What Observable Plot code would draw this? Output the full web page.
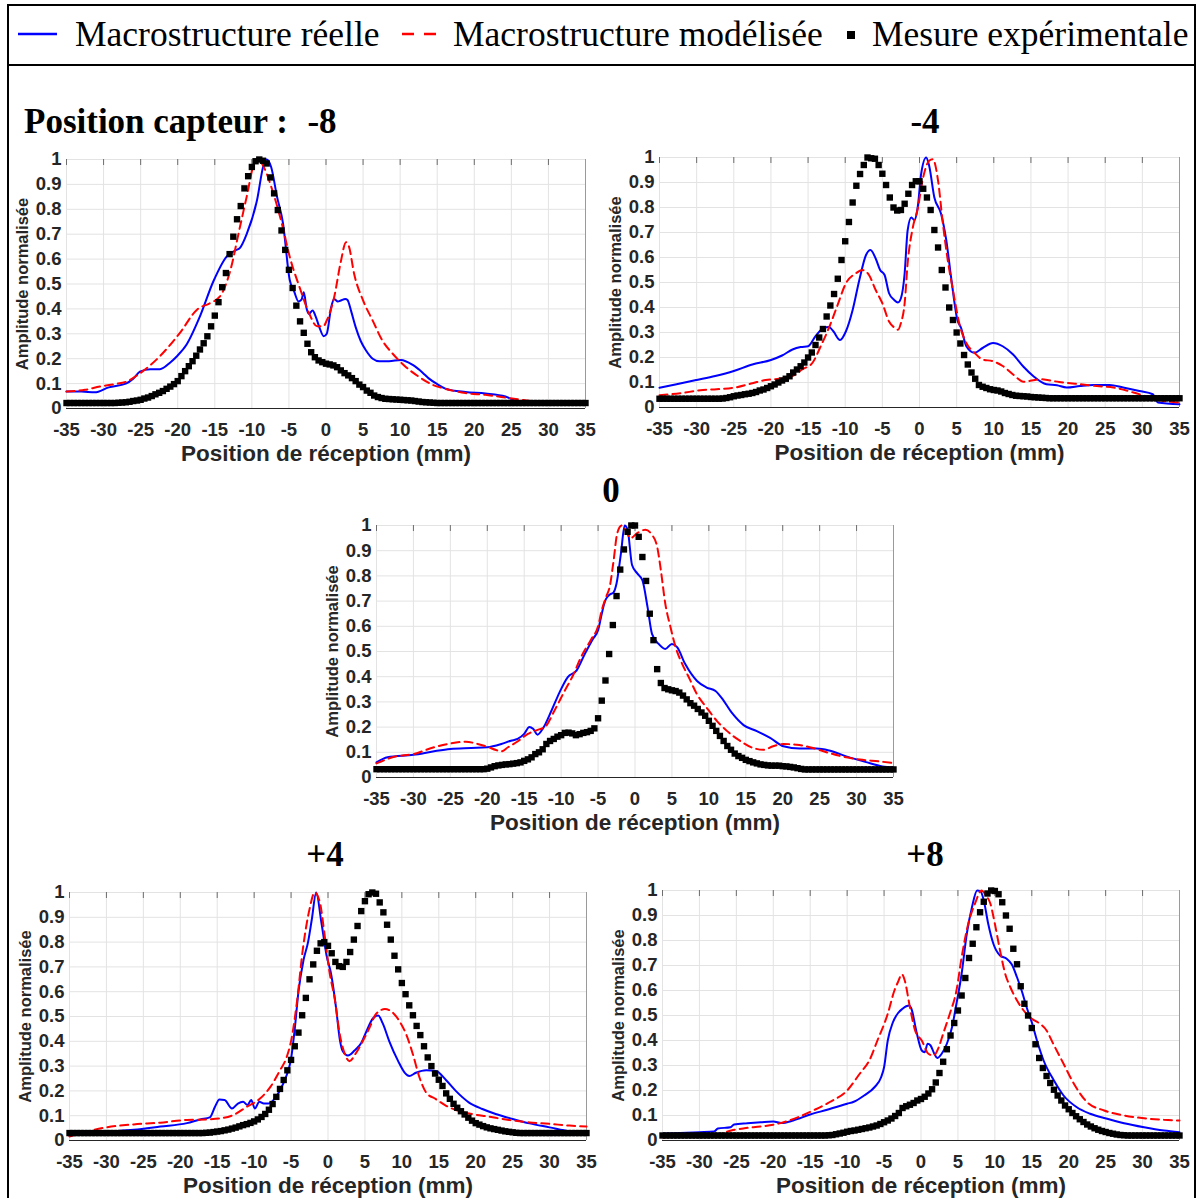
<!DOCTYPE html>
<html>
<head>
<meta charset="utf-8">
<script src="https://cdn.jsdelivr.net/npm/d3@7"></script>
<script src="https://cdn.jsdelivr.net/npm/@observablehq/plot@0.6"></script>
<style>
  html, body { margin: 0; padding: 0; background: #fff; }
  #fig { position: relative; width: 1200px; height: 1198px; overflow: hidden; background: #fff; }
  #fig svg { position: absolute; }
</style>
</head>
<body>
<div id="fig"></div>
<script>
// ---------------- labels / ticks ----------------
const legendLabels = ["Macrostructure réelle", "Macrostructure modélisée", "Mesure expérimentale"];
const titlePrefix = "Position capteur :";
const panelTitles = ["-8", "-4", "0", "+4", "+8"];
const xLabel = "Position de réception (mm)";
const yLabel = "Amplitude normalisée";
const xTicks = [-35, -30, -25, -20, -15, -10, -5, 0, 5, 10, 15, 20, 25, 30, 35];
const yTicks = [0, 0.1, 0.2, 0.3, 0.4, 0.5, 0.6, 0.7, 0.8, 0.9, 1];
// measurement grid (0.5 mm step)
const measX = d3.range(-35, 35.001, 0.5);

// ---------------- sensor position -8 ----------------
const real_m8 = [[-35,0.068],[-33,0.068],[-31.2,0.065],[-29.3,0.085],[-27,0.1],[-26,0.12],[-25.1,0.148],[-23.7,0.158],[-22.4,0.158],[-21,0.185],[-20.1,0.21],[-18.8,0.257],[-17,0.37],[-15.2,0.51],[-13.4,0.61],[-12.2,0.635],[-11.6,0.645],[-10.7,0.7],[-9.3,0.837],[-8.4,0.98],[-8,1.0],[-7.4,0.97],[-6.6,0.85],[-5.8,0.744],[-4.9,0.517],[-4.3,0.47],[-3.7,0.43],[-3.3,0.437],[-3,0.467],[-2.6,0.4],[-2.3,0.38],[-1.8,0.394],[-1.4,0.37],[-0.9,0.327],[-0.3,0.29],[0.1,0.3],[0.7,0.407],[1.1,0.44],[1.6,0.43],[2.0,0.434],[2.6,0.44],[2.9,0.436],[3.4,0.39],[4,0.327],[4.7,0.27],[5.4,0.233],[6.3,0.2],[7.2,0.19],[8.5,0.19],[10.1,0.195],[11.7,0.175],[13,0.145],[13.9,0.12],[15,0.098],[16.1,0.08],[18.8,0.066],[21.5,0.06],[24.2,0.048],[25.6,0.03],[26.5,0.022],[35,0.022]];
const model_m8 = [[-35,0.068],[-32.5,0.075],[-30.5,0.088],[-28.5,0.098],[-27,0.107],[-25.1,0.141],[-22.4,0.21],[-19.7,0.304],[-17.4,0.397],[-15.6,0.424],[-14.3,0.45],[-13,0.544],[-11.6,0.73],[-10.7,0.85],[-9.6,0.99],[-9.1,1.0],[-8.4,0.97],[-7.1,0.864],[-5.8,0.724],[-4.9,0.61],[-3.6,0.49],[-2.3,0.384],[-1.2,0.33],[-0.4,0.33],[0.2,0.36],[1.1,0.447],[2.0,0.59],[2.7,0.668],[3.1,0.65],[3.8,0.54],[5,0.434],[6.3,0.353],[7.6,0.273],[9,0.22],[10.8,0.166],[12.6,0.126],[14.4,0.095],[16.1,0.079],[18.8,0.062],[21.5,0.055],[25.1,0.04],[27.8,0.03],[29.6,0.025],[32,0.022],[35,0.022]];
const meas_m8 = [
  0.022,0.022,0.022,0.022,0.022,0.022,0.022,0.022,0.022,0.022,
  0.022,0.022,0.022,0.022,0.023,0.024,0.025,0.027,0.030,0.032,
  0.035,0.040,0.044,0.050,0.057,0.063,0.070,0.079,0.088,0.098,
  0.110,0.130,0.150,0.170,0.190,0.212,0.237,0.262,0.290,0.330,
  0.373,0.427,0.487,0.544,0.620,0.690,0.760,0.813,0.884,0.933,
  0.970,0.993,1.000,0.995,0.984,0.928,0.864,0.797,0.715,0.637,
  0.557,0.484,0.413,0.350,0.304,0.260,0.226,0.206,0.193,0.186,
  0.180,0.177,0.173,0.166,0.153,0.142,0.133,0.122,0.110,0.096,
  0.086,0.072,0.063,0.052,0.046,0.042,0.039,0.038,0.037,0.036,
  0.035,0.034,0.033,0.032,0.030,0.028,0.026,0.025,0.024,0.023,
  0.022,0.022,0.022,0.022,0.022,0.022,0.022,0.022,0.022,0.022,
  0.022,0.022,0.022,0.022,0.022,0.022,0.022,0.022,0.022,0.022,
  0.022,0.022,0.022,0.022,0.022,0.022,0.022,0.022,0.022,0.022,
  0.022,0.022,0.022,0.022,0.022,0.022,0.022,0.022,0.022,0.022,
  0.022];

// ---------------- sensor position -4 ----------------
const real_m4 = [[-35,0.079],[-32.7,0.093],[-30,0.11],[-27.5,0.126],[-25,0.146],[-22.5,0.172],[-20,0.19],[-18.5,0.208],[-17.1,0.232],[-16,0.242],[-15,0.245],[-14,0.285],[-12.9,0.318],[-12.2,0.322],[-11.6,0.305],[-10.7,0.27],[-9.9,0.305],[-9,0.39],[-8.1,0.51],[-7.2,0.61],[-6.6,0.63],[-5.9,0.596],[-5.3,0.55],[-4.7,0.53],[-4.1,0.457],[-3.4,0.43],[-2.9,0.42],[-2.5,0.437],[-2,0.536],[-1.6,0.708],[-1.1,0.76],[-0.7,0.75],[-0.2,0.81],[0.2,0.93],[0.9,1.0],[1.3,0.967],[2,0.84],[2.9,0.775],[3.6,0.67],[4.3,0.51],[5.1,0.35],[5.6,0.318],[6.3,0.245],[7.4,0.219],[8.5,0.238],[9.9,0.258],[11.2,0.245],[12.6,0.212],[14,0.163],[15.3,0.126],[17.1,0.093],[18.5,0.089],[19.8,0.08],[21.6,0.086],[23.4,0.09],[25.6,0.09],[27.4,0.08],[29.6,0.066],[31.4,0.053],[32.1,0.02],[35,0.013]];
const model_m4 = [[-35,0.049],[-32.2,0.057],[-29.5,0.069],[-27.3,0.073],[-25,0.079],[-22.5,0.097],[-20.7,0.11],[-18.9,0.115],[-17.1,0.126],[-15.8,0.152],[-14.4,0.179],[-13.3,0.245],[-12.2,0.318],[-11.1,0.404],[-9.9,0.497],[-8.6,0.536],[-7.7,0.55],[-6.8,0.53],[-5.9,0.47],[-5,0.417],[-4.1,0.344],[-3.4,0.32],[-2.9,0.311],[-2.5,0.338],[-2,0.417],[-1.6,0.576],[-0.9,0.72],[-0.2,0.8],[0.4,0.907],[1.3,0.987],[1.8,0.993],[2.5,0.907],[3.1,0.748],[3.8,0.59],[4.5,0.47],[5.4,0.331],[6.3,0.258],[7.4,0.219],[8.5,0.192],[9.9,0.185],[11.2,0.166],[12.6,0.132],[14,0.103],[16.2,0.113],[18.8,0.102],[21.6,0.093],[23.9,0.086],[26.1,0.08],[28.8,0.06],[30.6,0.044],[32.9,0.026],[35,0.02]];
const meas_m4 = [
  0.035,0.035,0.035,0.035,0.035,0.035,0.035,0.035,0.035,0.035,
  0.035,0.035,0.035,0.035,0.035,0.035,0.035,0.036,0.038,0.041,
  0.045,0.048,0.050,0.053,0.055,0.058,0.062,0.068,0.072,0.078,
  0.085,0.092,0.100,0.108,0.115,0.125,0.140,0.152,0.165,0.180,
  0.200,0.220,0.250,0.280,0.314,0.364,0.408,0.454,0.515,0.590,
  0.665,0.742,0.820,0.887,0.934,0.970,1.000,0.997,0.995,0.970,
  0.935,0.890,0.840,0.800,0.788,0.790,0.815,0.855,0.890,0.905,
  0.905,0.875,0.840,0.790,0.710,0.640,0.550,0.480,0.400,0.350,
  0.300,0.256,0.210,0.172,0.140,0.115,0.090,0.083,0.078,0.073,
  0.070,0.068,0.064,0.058,0.054,0.050,0.047,0.046,0.045,0.044,
  0.042,0.041,0.040,0.039,0.038,0.037,0.037,0.037,0.037,0.037,
  0.037,0.037,0.037,0.037,0.037,0.037,0.037,0.037,0.037,0.037,
  0.037,0.037,0.037,0.037,0.037,0.037,0.037,0.037,0.037,0.037,
  0.037,0.037,0.037,0.037,0.037,0.037,0.037,0.037,0.037,0.037,
  0.037];

// ---------------- sensor position 0 ----------------
const real_0 = [[-35,0.06],[-33.5,0.08],[-30,0.09],[-27.2,0.104],[-25,0.113],[-22.2,0.117],[-20,0.12],[-18.1,0.133],[-16.8,0.146],[-15.9,0.153],[-15,0.173],[-14.3,0.2],[-13.8,0.193],[-13.2,0.17],[-12.5,0.193],[-11.3,0.266],[-10.2,0.339],[-9.1,0.398],[-7.9,0.425],[-6.8,0.49],[-5.7,0.55],[-5,0.584],[-4.5,0.65],[-4.1,0.697],[-3.5,0.724],[-2.9,0.735],[-2.5,0.77],[-1.9,0.89],[-1.4,1.0],[-1,0.983],[-0.4,0.843],[0.3,0.81],[1,0.783],[1.7,0.676],[2.3,0.57],[3.2,0.53],[4.1,0.51],[5,0.53],[5.7,0.517],[6.8,0.45],[8.4,0.383],[9.7,0.357],[10.9,0.343],[11.7,0.317],[13.1,0.257],[14.7,0.208],[16.5,0.184],[18.3,0.157],[20.1,0.124],[22.3,0.115],[24.6,0.115],[26.3,0.107],[28.6,0.084],[31.3,0.061],[33.5,0.044],[35,0.04]];
const model_0 = [[-35,0.056],[-32.6,0.082],[-30,0.093],[-27.2,0.12],[-25,0.135],[-22.9,0.142],[-21.3,0.133],[-20,0.122],[-18.8,0.109],[-18.1,0.104],[-17.2,0.12],[-15.9,0.143],[-14.5,0.173],[-13.1,0.19],[-12.2,0.2],[-10.9,0.266],[-9.5,0.345],[-8.4,0.405],[-7.3,0.478],[-5.9,0.55],[-5,0.6],[-4.5,0.664],[-3.9,0.717],[-3.4,0.76],[-2.9,0.86],[-2.4,0.97],[-1.8,1.0],[-1.3,0.983],[-0.6,0.95],[0.3,0.97],[1.4,0.983],[2.3,0.963],[3,0.916],[3.5,0.823],[4.1,0.69],[4.8,0.597],[5.5,0.517],[6.4,0.45],[7.3,0.397],[8.4,0.33],[9.7,0.277],[11.1,0.224],[12.4,0.186],[14.2,0.146],[16,0.117],[17.4,0.11],[18.7,0.124],[20.1,0.133],[21.9,0.13],[24.1,0.117],[26.3,0.097],[28.6,0.08],[30.8,0.07],[33,0.064],[35,0.057]];
const meas_0 = [
  0.033,0.033,0.033,0.033,0.033,0.033,0.033,0.033,0.033,0.033,
  0.033,0.033,0.033,0.033,0.033,0.033,0.033,0.033,0.033,0.033,
  0.033,0.033,0.033,0.033,0.033,0.033,0.033,0.033,0.033,0.033,
  0.035,0.040,0.045,0.048,0.050,0.052,0.053,0.055,0.057,0.060,
  0.066,0.072,0.080,0.093,0.100,0.112,0.133,0.145,0.153,0.162,
  0.168,0.177,0.178,0.175,0.168,0.172,0.177,0.180,0.185,0.195,
  0.235,0.305,0.385,0.490,0.605,0.720,0.825,0.905,0.975,1.000,
  1.000,0.955,0.875,0.780,0.650,0.545,0.430,0.375,0.355,0.350,
  0.346,0.343,0.337,0.325,0.310,0.295,0.285,0.272,0.258,0.245,
  0.225,0.205,0.185,0.165,0.145,0.125,0.110,0.095,0.085,0.078,
  0.070,0.065,0.060,0.056,0.052,0.050,0.048,0.047,0.047,0.047,
  0.045,0.044,0.042,0.040,0.037,0.034,0.032,0.032,0.032,0.032,
  0.032,0.032,0.032,0.032,0.032,0.032,0.032,0.032,0.032,0.032,
  0.032,0.032,0.032,0.032,0.032,0.032,0.032,0.032,0.032,0.032,
  0.032];

// ---------------- sensor position +4 ----------------
const real_p4 = [[-35,0.02],[-32.6,0.03],[-30,0.036],[-26.3,0.043],[-22.7,0.056],[-19.1,0.07],[-17.3,0.085],[-16,0.093],[-15.3,0.136],[-14.7,0.165],[-14,0.163],[-13,0.129],[-12.2,0.149],[-11.5,0.156],[-10.9,0.143],[-10.4,0.163],[-9.9,0.129],[-9.3,0.156],[-8.7,0.149],[-8.1,0.149],[-7.4,0.163],[-6.5,0.203],[-5.6,0.263],[-5,0.33],[-4.5,0.45],[-4,0.6],[-3.3,0.73],[-2.7,0.8],[-2.2,0.89],[-1.6,1.0],[-0.9,0.88],[-0.2,0.747],[0.45,0.667],[1.1,0.533],[1.6,0.407],[2,0.36],[2.7,0.343],[3.6,0.363],[4.5,0.393],[5.2,0.44],[6.1,0.493],[6.8,0.504],[7.4,0.473],[8.3,0.4],[9.5,0.32],[10.4,0.273],[11,0.26],[11.9,0.273],[13.3,0.283],[14.6,0.28],[16,0.243],[17.3,0.2],[19.1,0.153],[20.9,0.127],[22.7,0.107],[25,0.087],[27.3,0.069],[30,0.053],[32.7,0.037],[35,0.033]];
const model_p4 = [[-35,0.016],[-32.6,0.036],[-30,0.053],[-26.3,0.065],[-22.7,0.072],[-19.1,0.083],[-16.4,0.085],[-14.6,0.089],[-12.8,0.103],[-11,0.136],[-9.2,0.169],[-7.8,0.216],[-6.5,0.283],[-5.6,0.336],[-4.9,0.416],[-4.2,0.56],[-3.4,0.773],[-2.5,0.933],[-1.8,1.0],[-1.1,0.96],[-0.45,0.827],[0.2,0.68],[0.9,0.573],[1.6,0.427],[2.3,0.347],[2.9,0.32],[3.8,0.353],[4.7,0.4],[5.6,0.453],[6.5,0.51],[7.7,0.53],[8.6,0.52],[9.7,0.48],[10.6,0.427],[11.5,0.347],[12.4,0.253],[13.3,0.193],[14.6,0.167],[16,0.14],[17.3,0.123],[19.1,0.109],[21.8,0.096],[24.5,0.083],[27.3,0.073],[30,0.067],[32.7,0.06],[35,0.056]];
const meas_p4 = [
  0.030,0.030,0.030,0.030,0.030,0.030,0.030,0.030,0.030,0.030,
  0.030,0.030,0.030,0.030,0.030,0.030,0.030,0.030,0.030,0.030,
  0.030,0.030,0.030,0.030,0.030,0.030,0.030,0.030,0.030,0.030,
  0.030,0.030,0.030,0.030,0.030,0.030,0.030,0.031,0.032,0.034,
  0.036,0.038,0.041,0.044,0.048,0.052,0.057,0.062,0.066,0.071,
  0.077,0.085,0.095,0.107,0.124,0.147,0.176,0.208,0.244,0.283,
  0.325,0.380,0.435,0.505,0.575,0.650,0.710,0.765,0.795,0.800,
  0.785,0.755,0.720,0.703,0.700,0.720,0.760,0.810,0.865,0.925,
  0.965,0.993,1.000,0.995,0.960,0.920,0.870,0.810,0.745,0.690,
  0.635,0.590,0.545,0.505,0.462,0.425,0.380,0.335,0.300,0.270,
  0.245,0.220,0.190,0.168,0.148,0.132,0.118,0.105,0.092,0.080,
  0.070,0.064,0.058,0.053,0.049,0.046,0.043,0.040,0.037,0.035,
  0.033,0.031,0.030,0.030,0.030,0.030,0.030,0.030,0.030,0.030,
  0.030,0.030,0.030,0.030,0.030,0.030,0.030,0.030,0.030,0.030,
  0.030];

// ---------------- sensor position +8 ----------------
const real_p8 = [[-35,0.027],[-30,0.033],[-28,0.036],[-27.5,0.048],[-25.8,0.053],[-25.3,0.064],[-23.5,0.069],[-21.7,0.073],[-20,0.076],[-18.9,0.07],[-17.3,0.08],[-15,0.104],[-12.7,0.123],[-10,0.147],[-9.1,0.155],[-7.7,0.18],[-6.3,0.213],[-5.4,0.253],[-5,0.293],[-4.5,0.4],[-3.8,0.473],[-3.1,0.51],[-2.5,0.527],[-2,0.537],[-1.6,0.54],[-1.3,0.527],[-0.6,0.433],[0.1,0.36],[0.5,0.353],[0.9,0.387],[1.3,0.38],[1.8,0.347],[2.2,0.33],[2.8,0.347],[3.5,0.387],[4.2,0.453],[4.8,0.547],[5.5,0.667],[6.2,0.827],[6.9,0.933],[7.6,1.0],[8.1,0.995],[8.5,0.96],[9.1,0.867],[9.8,0.787],[10.7,0.74],[11.6,0.727],[12.3,0.704],[13,0.653],[13.7,0.593],[14.3,0.533],[15,0.473],[15.7,0.4],[16.6,0.32],[18,0.24],[19.3,0.18],[21.1,0.133],[22.9,0.107],[25.2,0.087],[27.5,0.069],[30.2,0.053],[32.9,0.04],[35,0.033]];
const model_p8 = [[-35,0.013],[-29.8,0.02],[-27.5,0.024],[-25.7,0.04],[-23.9,0.049],[-21.7,0.056],[-20,0.063],[-18.2,0.077],[-16.4,0.096],[-14.6,0.12],[-12.4,0.153],[-10,0.2],[-8.3,0.267],[-7,0.32],[-5.9,0.4],[-4.5,0.507],[-3.6,0.6],[-3.1,0.635],[-2.6,0.665],[-2.2,0.64],[-1.5,0.533],[-0.8,0.44],[0.1,0.4],[1,0.347],[1.7,0.34],[2.4,0.373],[3,0.427],[3.9,0.507],[4.8,0.6],[5.5,0.733],[6.4,0.867],[7.3,0.947],[8.2,1.0],[8.8,0.98],[9.4,0.947],[10,0.867],[10.7,0.76],[11.4,0.667],[12.1,0.613],[13,0.56],[13.9,0.52],[15,0.487],[16.1,0.467],[17,0.44],[17.9,0.387],[19.3,0.307],[20.7,0.227],[22.5,0.153],[24.8,0.12],[27.5,0.1],[30.2,0.089],[32.9,0.083],[35,0.08]];
const meas_p8 = [
  0.020,0.020,0.020,0.020,0.020,0.020,0.020,0.020,0.020,0.020,
  0.020,0.020,0.020,0.020,0.020,0.020,0.020,0.020,0.020,0.020,
  0.020,0.020,0.020,0.020,0.020,0.020,0.020,0.020,0.020,0.020,
  0.020,0.020,0.020,0.020,0.020,0.020,0.020,0.020,0.020,0.020,
  0.020,0.020,0.020,0.020,0.020,0.021,0.022,0.025,0.028,0.031,
  0.035,0.038,0.040,0.043,0.046,0.049,0.052,0.056,0.060,0.066,
  0.073,0.080,0.088,0.098,0.110,0.130,0.137,0.143,0.150,0.160,
  0.166,0.175,0.188,0.205,0.232,0.270,0.315,0.365,0.420,0.470,
  0.520,0.580,0.650,0.730,0.787,0.853,0.913,0.955,0.988,1.000,
  0.998,0.985,0.953,0.900,0.847,0.767,0.705,0.617,0.547,0.500,
  0.450,0.385,0.330,0.290,0.258,0.230,0.203,0.180,0.160,0.140,
  0.125,0.110,0.097,0.085,0.074,0.064,0.056,0.049,0.043,0.038,
  0.034,0.030,0.027,0.024,0.022,0.021,0.020,0.020,0.020,0.020,
  0.020,0.020,0.020,0.020,0.020,0.020,0.020,0.020,0.020,0.020,
  0.020];

// ---------------- layout ----------------
const fig = d3.select("#fig");
const SERIF = "'Liberation Serif', 'Times New Roman', serif";
const SANS = "'Liberation Sans', Arial, Helvetica, sans-serif";

// overlay: frame, legend, titles
const ov = fig.append("svg").attr("width", 1200).attr("height", 1198).style("left", "0px").style("top", "0px");
ov.append("rect").attr("x", 8).attr("y", 5).attr("width", 1187).attr("height", 1210)
  .attr("fill", "none").attr("stroke", "#000").attr("stroke-width", 2);
ov.append("line").attr("x1", 8).attr("x2", 1195).attr("y1", 65).attr("y2", 65)
  .attr("stroke", "#000").attr("stroke-width", 2);
// legend
ov.append("line").attr("x1", 18).attr("x2", 57).attr("y1", 34).attr("y2", 34).attr("stroke", "#0000ff").attr("stroke-width", 2.5);
ov.append("line").attr("x1", 402).attr("x2", 437).attr("y1", 34).attr("y2", 34).attr("stroke", "#ff0000").attr("stroke-width", 2.5).attr("stroke-dasharray", "12,10");
ov.append("rect").attr("x", 847).attr("y", 31).attr("width", 8).attr("height", 8).attr("fill", "#000");
[[75, legendLabels[0]], [453, legendLabels[1]], [872, legendLabels[2]]].forEach(([x, t]) => {
  ov.append("text").attr("x", x).attr("y", 46).attr("font-family", SERIF).attr("font-size", 35.5).attr("fill", "#000").text(t);
});
ov.append("text").attr("x", 24).attr("y", 133).attr("font-family", SERIF).attr("font-size", 35).attr("font-weight", "bold").text(titlePrefix);

const panels = [
  {title: panelTitles[0], tx: 322, ty: 133, left: 66, top: 159, w: 519, h: 249, real: real_m8, model: model_m8, meas: meas_m8},
  {title: panelTitles[1], tx: 925, ty: 133, left: 659, top: 157, w: 520, h: 250, real: real_m4, model: model_m4, meas: meas_m4},
  {title: panelTitles[2], tx: 611, ty: 502, left: 376, top: 525, w: 517, h: 252, real: real_0, model: model_0, meas: meas_0},
  {title: panelTitles[3], tx: 325, ty: 866, left: 69, top: 892, w: 517, h: 248, real: real_p4, model: model_p4, meas: meas_p4},
  {title: panelTitles[4], tx: 925, ty: 866, left: 662, top: 890, w: 517, h: 250, real: real_p8, model: model_p8, meas: meas_p8}
];

panels.forEach(p => {
  ov.append("text").attr("x", p.tx).attr("y", p.ty).attr("text-anchor", "middle")
    .attr("font-family", SERIF).attr("font-size", 35).attr("font-weight", "bold").text(p.title);

  const mL = 72, mR = 14, mT = 12, mB = 72;
  const chart = Plot.plot({
    width: p.w + mL + mR,
    height: p.h + mT + mB,
    marginLeft: mL, marginRight: mR, marginTop: mT, marginBottom: mB,
    style: {background: "transparent", overflow: "visible", color: "#262626", fontFamily: SANS},
    x: {domain: [-35, 35]},
    y: {domain: [0, 1]},
    marks: [
      Plot.gridX(xTicks, {stroke: "#e3e3e3", strokeOpacity: 1}),
      Plot.gridY(yTicks, {stroke: "#e3e3e3", strokeOpacity: 1}),
      Plot.ruleX(xTicks, {insetBottom: p.h - 6, stroke: "#6e6e6e"}),
      Plot.ruleX([35], {stroke: "#9a9a9a"}),
      Plot.ruleY([0], {stroke: "#262626"}),
      Plot.axisX(xTicks, {tickSize: 0, tickPadding: 14, fontSize: 18.5, fontWeight: "bold", fill: "#262626", tickFormat: d => String(d), label: null}),
      Plot.axisY(yTicks, {tickSize: 0, tickPadding: 5, fontSize: 18.5, fontWeight: "bold", fill: "#262626", tickFormat: d => String(d), label: null}),
      Plot.text([xLabel], {text: d => d, frameAnchor: "bottom", dy: 45, lineAnchor: "middle", fontSize: 22.5, fontWeight: "bold", fill: "#262626"}),
      Plot.text([yLabel], {text: d => d, frameAnchor: "left", dx: -44, rotate: -90, textAnchor: "middle", lineAnchor: "middle", fontSize: 16.5, fontWeight: "bold", fill: "#262626"}),
      Plot.line(p.real, {x: d => d[0], y: d => d[1], stroke: "#0000ff", strokeWidth: 2, curve: "monotone-x"}),
      Plot.line(p.model, {x: d => d[0], y: d => d[1], stroke: "#ff0000", strokeWidth: 2, strokeDasharray: "8,5", curve: "monotone-x"}),
      Plot.dot(p.meas, {x: (d, i) => measX[i], y: d => d, symbol: "square", r: 3.6, fill: "#000", stroke: "none"})
    ]
  });
  chart.style.position = "absolute";
  chart.style.left = (p.left - mL) + "px";
  chart.style.top = (p.top - mT) + "px";
  document.getElementById("fig").appendChild(chart);
});
</script>
</body>
</html>
